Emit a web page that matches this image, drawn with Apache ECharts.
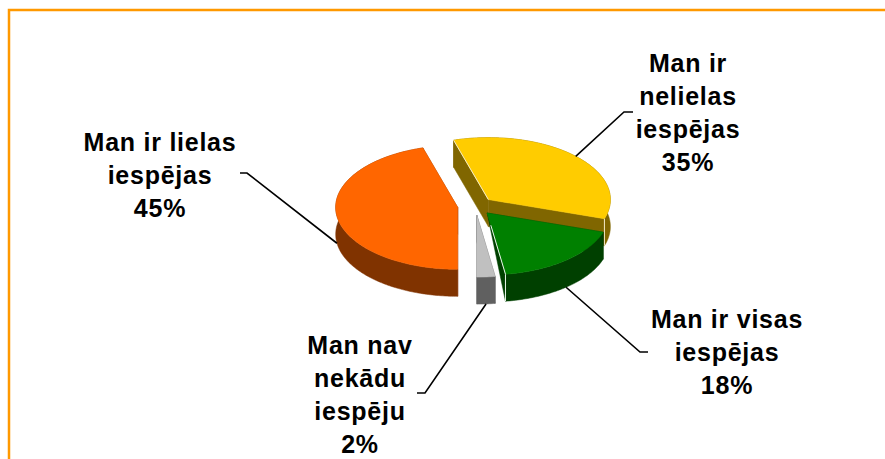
<!DOCTYPE html>
<html>
<head>
<meta charset="utf-8">
<style>
html,body{margin:0;padding:0;background:#fff}
#c{width:885px;height:459px}
svg text, svg tspan{letter-spacing:0.75px}
</style>
<script src="https://cdn.jsdelivr.net/npm/echarts@6/dist/echarts.min.js"></script>
</head>
<body>
<div id="c"></div>
<script>
// Data
const categories = ['Man ir lielas\niespējas', 'Man ir\nnelielas\niespējas', 'Man ir visas\niespējas', 'Man nav\nnekādu\niespēju'];
const values = [45.4, 34.6, 17.6, 2.4];

// Pie appearance
const topColors = ['#FF6600', '#FFCC00', '#008000', '#C0C0C0'];
const wallColors = ['#803300', '#806600', '#004000', '#606060'];
const edgeColors = [null, '#F4EBC8', '#E8F4E8', null];
const startAngle = 180;
const cx = 475.5, cy = 206, rx = 122, ry = 62, depth = 27, explode = 18;
const apexDepth = [27, 27, 0, 27];
// Label centres and leader line bends
const labelCenters = [[160, 175], [688, 112], [727, 352], [360, 394]];
const leaderBends = [[[247, 173], [240, 173]], [[624, 112], [633, 112]], [[640, 352], [648, 352]], [[425, 393], [417, 393]]];

const total = values.reduce((a, b) => a + b, 0);
const K = ry / rx;
const rad = d => d * Math.PI / 180;

function sliceGeometry(idx) {
  let a0 = startAngle;
  for (let i = 0; i < idx; i++) a0 += values[i] / total * 360;
  const a1 = a0 + values[idx] / total * 360;
  const mid = (a0 + a1) / 2;
  const ox = cx + explode * Math.sin(rad(mid));
  const oy = cy - explode * K * Math.cos(rad(mid));
  const pt = a => [ox + rx * Math.sin(rad(a)), oy - ry * Math.cos(rad(a))];
  const rim = [];
  const n = Math.max(4, Math.ceil(a1 - a0));
  for (let i = 0; i <= n; i++) rim.push(pt(a0 + (a1 - a0) * i / n));
  return { a0, a1, mid, ox, oy, rim, pt };
}
const down = (p, d) => [p[0], p[1] + d];

function renderSlice(params, api) {
  const i = params.dataIndex;
  const v = api.value(0);
  const g = sliceGeometry(i);
  const wall = wallColors[i];
  const wallStyle = { fill: wall, stroke: wall, lineWidth: 0.5 };
  const apex = [g.ox, g.oy];
  const first = g.rim[0], last = g.rim[g.rim.length - 1];
  const children = [];
  const strip = g.rim.concat(g.rim.slice().reverse().map(p => down(p, depth)));
  children.push({ type: 'polygon', shape: { points: [apex, first, down(first, depth), down(apex, apexDepth[i])] }, style: wallStyle });
  children.push({ type: 'polygon', shape: { points: [apex, last, down(last, depth), down(apex, apexDepth[i])] }, style: wallStyle });
  children.push({ type: 'polygon', shape: { points: strip }, style: wallStyle });
  children.push({ type: 'polygon', shape: { points: [apex].concat(g.rim) }, style: { fill: topColors[i], stroke: topColors[i], lineWidth: 0.5 } });
  if (edgeColors[i]) {
    const edgeStyle = { stroke: edgeColors[i], lineWidth: 1, fill: 'none' };
    if (i === 1) {
      children.push({ type: 'polyline', shape: { points: [first, apex] }, style: edgeStyle });
      children.push({ type: 'polyline', shape: { points: [last, down(last, depth)] }, style: edgeStyle });
    } else {
      const from = [apex[0] + (last[0] - apex[0]) * 0.2, apex[1] + (last[1] - apex[1]) * 0.2];
      children.push({ type: 'polyline', shape: { points: [from, last, down(last, depth)] }, style: edgeStyle });
    }
  }
  // leader line: starts on the slice's rim at its mid angle
  const m = g.pt(g.mid);
  const anchor = Math.cos(rad(g.mid)) < 0.1 ? down(m, depth) : m;
  children.push({ type: 'polyline', z2: 20, shape: { points: [anchor].concat(leaderBends[i]) }, style: { stroke: '#000', lineWidth: 1.6, fill: 'none' } });
  const c = labelCenters[i];
  children.push({
    type: 'text', z2: 30,
    style: {
      x: c[0], y: c[1],
      text: categories[i] + '\n' + Math.round(v / total * 100) + '%',
      fill: '#000', font: 'bold 25px "Liberation Sans", Arial, sans-serif',
      lineHeight: 33, align: 'center', verticalAlign: 'middle'
    }
  });
  return { type: 'group', children };
}

const chart = echarts.init(document.getElementById('c'), null, { renderer: 'svg' });
chart.setOption({
  animation: false,
  backgroundColor: '#fff',
  graphic: [{ type: 'rect', z: -1, shape: { x: 9, y: 10, width: 1000, height: 1000 }, style: { fill: '#fff', stroke: '#FF9900', lineWidth: 2.5 } }],
  series: [{
    type: 'custom',
    coordinateSystem: 'none',
    silent: true,
    data: values.map((v, i) => ({ name: categories[i], value: [v] })),
    renderItem: renderSlice
  }]
});
</script>
</body>
</html>
